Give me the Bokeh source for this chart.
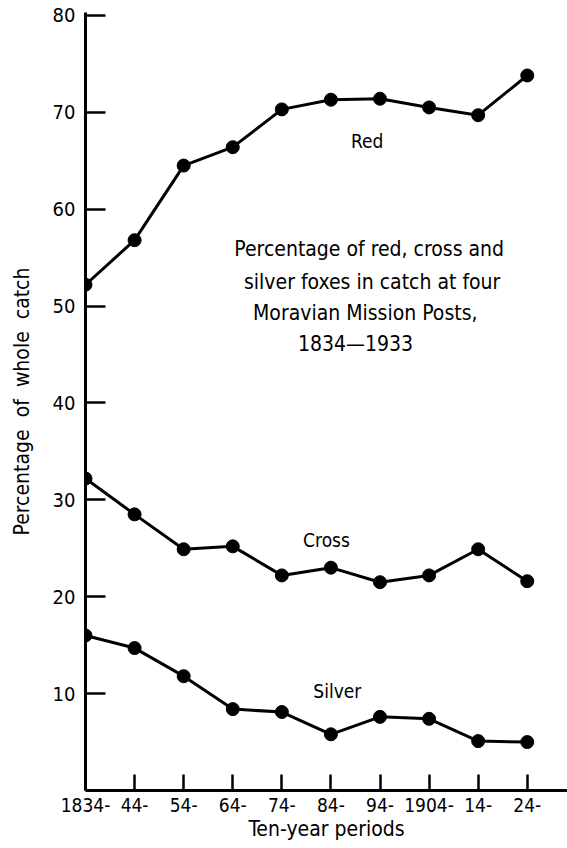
from bokeh.plotting import figure
from bokeh.models import Label, FixedTicker, Range1d
from bokeh.embed import file_html
from bokeh.resources import INLINE

categories = ["1834-", "44-", "54-", "64-", "74-", "84-", "94-", "1904-", "14-", "24-"]
red = [52.2, 56.8, 64.5, 66.4, 70.3, 71.3, 71.4, 70.5, 69.7, 73.8]
cross = [32.2, 28.5, 24.9, 25.2, 22.2, 23.0, 21.5, 22.2, 24.9, 21.6]
silver = [16.0, 14.7, 11.8, 8.4, 8.1, 5.8, 7.6, 7.4, 5.1, 5.0]
y_ticks = [10, 20, 30, 40, 50, 60, 70, 80]
title_lines = ["Percentage of red, cross and",
               "silver foxes in catch at four",
               "Moravian Mission Posts,",
               "1834\u20141933"]

FONT = "DejaVu Sans Condensed"
xs = list(range(len(categories)))

p = figure(width=567, height=848, output_backend="svg", toolbar_location=None,
           x_range=Range1d(0, 9.82), y_range=Range1d(0, 80.3),
           min_border_left=85, min_border_right=0, min_border_top=12, min_border_bottom=58)
p.outline_line_color = None
p.xgrid.visible = False
p.ygrid.visible = False

for series in (red, cross, silver):
    p.line(xs, series, line_color="black", line_width=3)
    p.scatter(xs, series, size=13, fill_color="black", line_color="black")

p.xaxis.ticker = FixedTicker(ticks=xs)
p.xaxis.major_label_overrides = {i: c for i, c in enumerate(categories)}
p.yaxis.ticker = FixedTicker(ticks=y_ticks)

for ax in (p.xaxis[0], p.yaxis[0]):
    ax.axis_line_width = 3
    ax.axis_line_color = "black"
    ax.major_tick_line_width = 2.5
    ax.major_tick_line_color = "black"
    ax.major_tick_out = 0
    ax.minor_tick_line_color = None
    ax.major_label_text_font = FONT
    ax.major_label_text_color = "black"
    ax.axis_label_text_font = FONT
    ax.axis_label_text_font_size = "21px"
    ax.axis_label_text_font_style = "normal"
    ax.axis_label_text_color = "black"

p.xaxis.major_label_text_font_size = "19px"
p.yaxis.major_label_text_font_size = "20px"
p.xaxis.major_tick_in = 16
p.yaxis.major_tick_in = 20
p.xaxis.major_label_standoff = 7
p.yaxis.major_label_standoff = 10
p.xaxis.axis_label = "Ten-year periods"
p.yaxis.axis_label = "Percentage\u00a0 of\u00a0 whole\u00a0 catch"
p.xaxis.axis_label_standoff = 2
p.yaxis.axis_label_standoff = 16

def add_text(x, y, t, size="19px"):
    p.add_layout(Label(x=x, y=y, text=t, text_font=FONT, text_font_size=size,
                       text_align="center", text_baseline="middle", text_color="black"))

add_text(5.74, 67.0, "Red")
add_text(4.91, 25.9, "Cross")
add_text(5.13, 10.3, "Silver")

title_x = [5.78, 5.84, 5.70, 5.50]
title_y = [55.9, 52.5, 49.3, 46.1]
for tx, ty, t in zip(title_x, title_y, title_lines):
    add_text(tx, ty, t, "21px")

open("out.html", "w").write(file_html(p, INLINE))
